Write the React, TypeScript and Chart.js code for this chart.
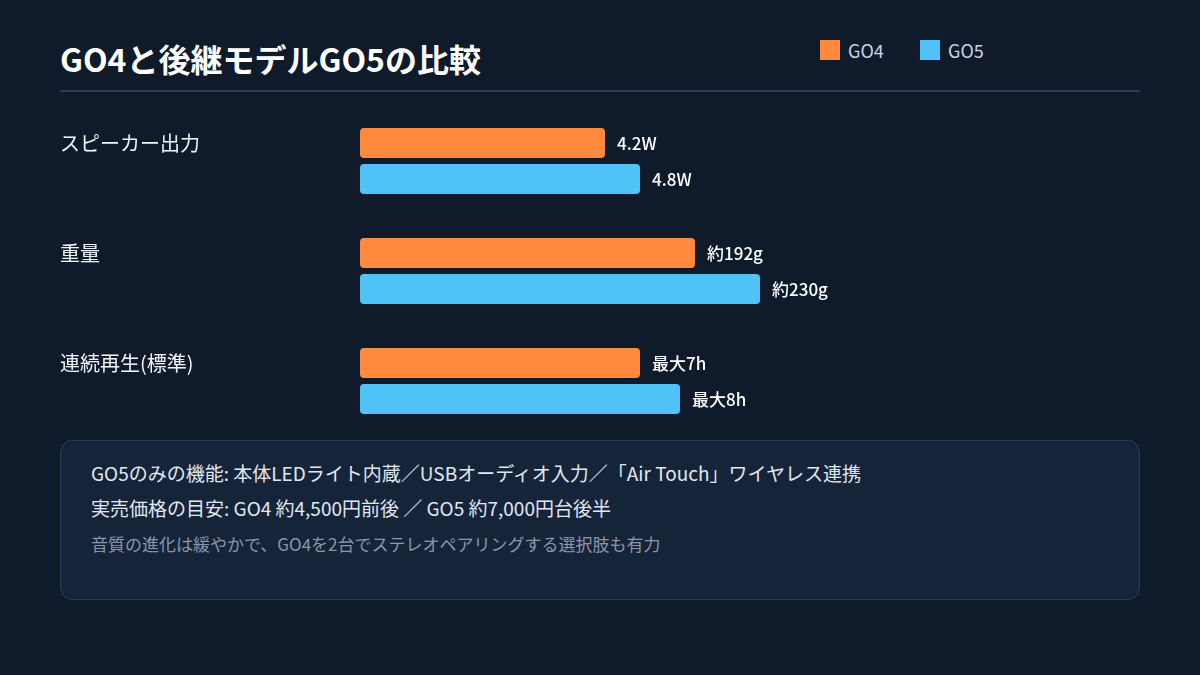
import React, { useEffect, useRef } from 'react';
import { Chart, registerables } from 'chart.js';

Chart.register(...registerables);

const titleText = 'GO4と後継モデルGO5の比較';
const categories = ['スピーカー出力', '重量', '連続再生(標準)'];
const seriesNames = ['GO4', 'GO5'];
const seriesColors = ['#ff8a3d', '#4fc3f7'];
// relative bar length (percent of the longest bar)
const go4Scores = [61.25, 83.75, 70];
const go5Scores = [70, 100, 80];
const go4Labels = ['4.2W', '約192g', '最大7h'];
const go5Labels = ['4.8W', '約230g', '最大8h'];
const noteLines = [
  'GO5のみの機能: 本体LEDライト内蔵／USBオーディオ入力／「Air Touch」ワイヤレス連携',
  '実売価格の目安: GO4 約4,500円前後 ／ GO5 約7,000円台後半',
];
const noteSub = '音質の進化は緩やかで、GO4を2台でステレオペアリングする選択肢も有力';

const FONT = '"Noto Sans CJK JP", "Noto Sans", sans-serif';

export default function App() {
  const ref = useRef<HTMLCanvasElement | null>(null);

  useEffect(() => {
    document.body.style.margin = '0';
    const canvas = ref.current;
    if (!canvas) return;
    const valueLabels = [go4Labels, go5Labels];
    const labelPlugin = {
      id: 'labels',
      afterDatasetsDraw(chart: any) {
        const ctx = chart.ctx;
        ctx.save();
        ctx.textBaseline = 'middle';
        ctx.textAlign = 'left';
        ctx.fillStyle = '#ffffff';
        ctx.font = `500 17px ${FONT}`;
        chart.data.datasets.forEach((_ds: any, di: number) => {
          const meta = chart.getDatasetMeta(di);
          meta.data.forEach((bar: any, i: number) => {
            ctx.fillText(valueLabels[di][i], bar.x + 12, bar.y + 1);
          });
        });
        // category labels aligned with first bar of each group
        const meta0 = chart.getDatasetMeta(0);
        ctx.font = `400 20px ${FONT}`;
        ctx.fillStyle = '#f1f5f9';
        meta0.data.forEach((bar: any, i: number) => {
          ctx.fillText(categories[i], 60, bar.y);
        });
        ctx.restore();
      },
    };
    const chart = new Chart(canvas, {
      type: 'bar',
      data: {
        labels: categories,
        datasets: [
          {
            label: seriesNames[0],
            data: go4Scores,
            backgroundColor: seriesColors[0],
            borderRadius: 4,
            borderSkipped: false,
            barPercentage: 0.8333,
            categoryPercentage: 0.6545,
          },
          {
            label: seriesNames[1],
            data: go5Scores,
            backgroundColor: seriesColors[1],
            borderRadius: 4,
            borderSkipped: false,
            barPercentage: 0.8333,
            categoryPercentage: 0.6545,
          },
        ],
      },
      options: {
        indexAxis: 'y',
        responsive: false,
        animation: false,
        layout: { padding: { left: 360, right: 440, top: 106, bottom: 239 } },
        plugins: { legend: { display: false }, tooltip: { enabled: false } },
        scales: {
          x: { display: false, min: 0, max: 100 },
          y: { display: false },
        },
      },
      plugins: [labelPlugin],
    } as any);
    return () => chart.destroy();
  }, []);

  const text = (extra: React.CSSProperties): React.CSSProperties => ({
    position: 'absolute',
    whiteSpace: 'nowrap',
    fontFamily: FONT,
    ...extra,
  });

  return (
    <div
      style={{
        position: 'relative',
        width: 1200,
        height: 675,
        background: '#0f1a2b',
        overflow: 'hidden',
        fontFamily: FONT,
      }}
    >
      <div style={text({ left: 60, top: 42, fontSize: 32, lineHeight: '32px', fontWeight: 700, color: '#ffffff' })}>
        {titleText}
      </div>
      {seriesNames.map((name, i) => (
        <div key={name} style={text({ left: 820 + i * 100, top: 40, height: 20, display: 'flex', alignItems: 'center' })}>
          <span style={{ width: 20, height: 20, background: seriesColors[i], display: 'inline-block' }} />
          <span style={{ marginLeft: 8, fontSize: 18, lineHeight: '20px', color: '#cbd5e1' }}>{name}</span>
        </div>
      ))}
      <div style={{ position: 'absolute', left: 60, top: 90, width: 1080, height: 2, background: '#2b3a4f' }} />
      <div
        style={{
          position: 'absolute',
          left: 60,
          top: 440,
          width: 1080,
          height: 160,
          boxSizing: 'border-box',
          border: '1px solid #2b3b53',
          borderRadius: 12,
          background: '#16243a',
        }}
      />
      {noteLines.map((line, i) => (
        <div key={i} style={text({ left: 91, top: 463 + i * 35, fontSize: 19, lineHeight: '19px', color: '#e2e8f0' })}>
          {line}
        </div>
      ))}
      <div style={text({ left: 91, top: 535, fontSize: 17, lineHeight: '17px', color: '#8b97a8' })}>{noteSub}</div>
      <canvas ref={ref} width={1200} height={675} style={{ position: 'absolute', left: 0, top: 0 }} />
    </div>
  );
}
